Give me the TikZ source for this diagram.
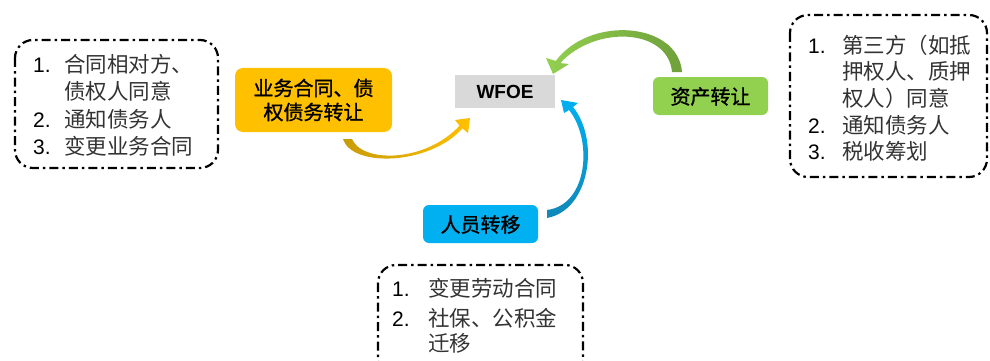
\documentclass[tikz,border=0pt]{standalone}
\usepackage{fontspec}
\setmainfont{Liberation Sans}
\newfontfamily\cjk{Noto Sans CJK SC}
\newfontfamily\cjkb[FakeBold=1.2]{Noto Sans CJK SC}
\definecolor{cOrange}{HTML}{FFC000}
\definecolor{cOrangeD}{HTML}{C89B0A}
\definecolor{cGreen}{HTML}{92D050}
\definecolor{cGreenD}{HTML}{6FA03A}
\definecolor{cBlue}{HTML}{00B0F0}
\definecolor{cBlueD}{HTML}{1088B8}
\definecolor{cGrey}{HTML}{D9D9D9}
\definecolor{cText}{HTML}{333333}
\tikzset{
  dashbox/.style={draw=black, line width=2.2pt, rounded corners=18pt,
    dash pattern=on 9pt off 4pt on 2.5pt off 4pt},
  num/.style={anchor=base west, inner sep=0pt, font=\fontsize{21}{21}\selectfont, text=black},
  itm/.style={anchor=base west, inner sep=0pt, font=\cjk\fontsize{21.5}{21.5}\selectfont, text=cText},
  lab/.style={inner sep=0pt, font=\cjkb\fontsize{20}{24}\selectfont, text=black, align=center},
}
\begin{document}
\begin{tikzpicture}[x=1pt,y=-1pt]
\useasboundingbox (0,0) rectangle (990,361);
\clip (0,0) rectangle (990,361);

% dashed boxes
\draw[dashbox] (15,40) rectangle (218,168);
\draw[dashbox] (790,15) rectangle (987,177);
\draw[dashbox] (378,265) rectangle (583,378);

% left list
\node[num] (l1n) at (33,72) {1.};
\node[itm] (l1a) at (64,72) {合同相对方、};
\node[itm] (l1b) at (64,99) {债权人同意};
\node[num] (l2n) at (33,127) {2.};
\node[itm] (l2a) at (64,127) {通知债务人};
\node[num] (l3n) at (33,154) {3.};
\node[itm] (l3a) at (64,154) {变更业务合同};

% right list
\node[num] (r1n) at (808,53) {1.};
\node[itm] (r1a) at (842,53) {第三方（如抵};
\node[itm] (r1b) at (842,80) {押权人、质押};
\node[itm] (r1c) at (842,106) {权人）同意};
\node[num] (r2n) at (808,133) {2.};
\node[itm] (r2a) at (842,133) {通知债务人};
\node[num] (r3n) at (808,159) {3.};
\node[itm] (r3a) at (842,159) {税收筹划};

% bottom list
\node[num] (b1n) at (392,296) {1.};
\node[itm] (b1a) at (428,296) {变更劳动合同};
\node[num] (b2n) at (392,326) {2.};
\node[itm] (b2a) at (428,326) {社保、公积金};
\node[itm] (b2b) at (428,351) {迁移};

% coloured boxes
\fill[cOrange, rounded corners=8pt] (235,68) rectangle (392,132);
\node[lab] (biz) at (313.5,100) {业务合同、债\\权债务转让};
\fill[cGrey] (455,75) rectangle (555,108);
\node[inner sep=0pt, font=\bfseries\fontsize{19}{19}\selectfont] (wfoe) at (505,92) {WFOE};
\fill[cGreen, rounded corners=6pt] (653,77) rectangle (768,115);
\node[lab] (asset) at (710.5,96.5) {资产转让};
\fill[cBlue, rounded corners=6pt] (423,205) rectangle (538,243);
\node[lab] (staff) at (480.5,224.5) {人员转移};

% orange curved arrow
\path[left color=cOrangeD, right color=cOrange]
  (343,139) .. controls (352,168) and (430,165) .. (462.4,128.4)
  -- (468,133) -- (470,118) -- (455,120) -- (459.6,125.6)
  .. controls (425,163) and (362,163) .. (352,139) -- cycle;

% green curved arrow
\path[left color=cGreen, right color=cGreenD]
  (682,72) .. controls (678,22) and (590,15) .. (555.8,60.9)
  -- (546,58) -- (553,74) -- (569,64) -- (560.2,63.1)
  .. controls (595,25) and (668,28) .. (672,72) -- cycle;

% blue curved arrow
\path[top color=cBlue, bottom color=cBlueD]
  (547,218) .. controls (590,210) and (600,140) .. (573,107)
  -- (578,103) -- (561,100) -- (564,113) -- (569,110)
  .. controls (593,140) and (588,205) .. (547,210) -- cycle;
\end{tikzpicture}
\end{document}
